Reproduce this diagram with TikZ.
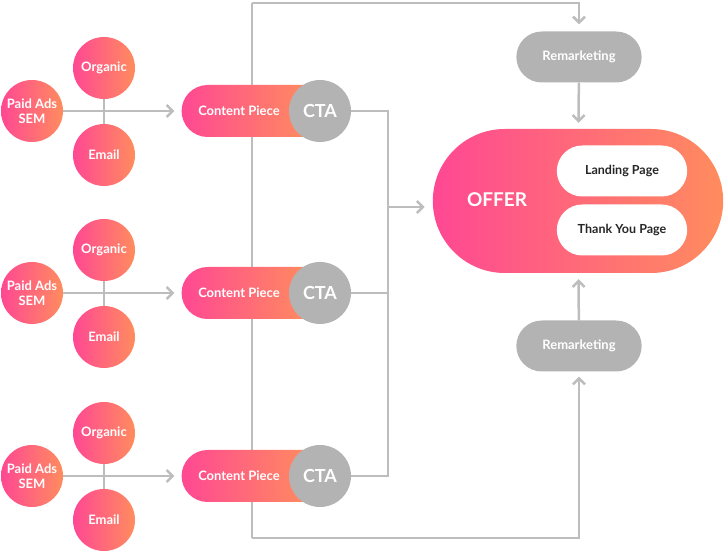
\documentclass[tikz,border=0pt]{standalone}
\usepackage{fontspec}
\setmainfont{Lato}
\usepackage{tikz}
\usetikzlibrary{arrows.meta,shapes.misc,backgrounds}
\definecolor{funnelpink}{HTML}{FF4893}
\definecolor{funnelorange}{HTML}{FF8C5E}
\definecolor{ctagray}{HTML}{B3B3B3}
\definecolor{linegray}{HTML}{BDBDBD}

\begin{document}
\begin{tikzpicture}[
  x=1pt,y=-1pt,
  grad/.style={left color=funnelpink,right color=funnelorange,draw=none},
  src/.style={circle,grad,minimum size=62pt,inner sep=0pt,align=center,text=white,font=\bfseries\fontsize{13}{15.5}\selectfont},
  piece/.style={rounded rectangle,rounded rectangle right arc=none,grad,minimum width=135pt,minimum height=52pt,text=white,font=\bfseries\fontsize{13}{15}\selectfont},
  cta/.style={circle,fill=ctagray,minimum size=62pt,inner sep=0pt,text=white,font=\bfseries\fontsize{18}{20}\selectfont},
  remark/.style={rounded rectangle,fill=ctagray,minimum width=132pt,minimum height=51pt,text=white,font=\bfseries\fontsize{13}{15}\selectfont},
  page/.style={rounded rectangle,fill=white,minimum width=137pt,minimum height=51pt,text=black!85,font=\bfseries\fontsize{12.5}{14}\selectfont},
  link/.style={draw=linegray,line width=2.5pt},
  arr/.style={link,-{Straight Barb[length=6pt,width=12pt]}}
]
\useasboundingbox (0,0) rectangle (724,553);

% three traffic rows
\foreach \r/\y in {1/111,2/293,3/476}{
  \node[src] (paid\r) at (32,\y) {Paid Ads\\SEM};
  \node[src] (org\r) at (104,{\y-43}) {Organic};
  \node[src] (mail\r) at (104,{\y+44}) {Email};
  \node[piece] (piece\r) at (246,\y) {Content Piece\hspace*{14pt}};
  \node[cta] (cta\r) at (320,\y) {CTA};
}

% offer and remarketing
\node[rounded rectangle,grad,minimum width=297pt,minimum height=144pt] (offer) at (578,201) {};
\node[text=white,font=\bfseries\fontsize{19}{21}\selectfont] (offertxt) at (497,200) {OFFER};
\node[page] (landing) at (622,171) {Landing Page};
\node[page] (thanks) at (622,230) {Thank You Page};
\node[remark] (remtop) at (579,57) {Remarketing};
\node[remark] (rembot) at (579,346) {Remarketing};

\coordinate (loopt) at (252,3);
\coordinate (loopb) at (252,538);
\coordinate (join) at (388,207);

\begin{scope}[on background layer]
  \foreach \r in {1,2,3}{
    \draw[link] (org\r) -- (mail\r);
    \draw[arr,shorten >=7pt] (paid\r) -- (piece\r);
  }
  \draw[link] (loopb) -- (loopt);
  \draw[arr,shorten >=7pt] (loopt) -| (remtop);
  \draw[arr,shorten >=5pt] (loopb) -| (rembot);
  \draw[arr,shorten >=6pt] (remtop) -- (offer);
  \draw[arr,shorten >=6pt] (rembot) -- (offer);
  \draw[link] (cta1) -| (join);
  \draw[link] (cta3) -| (join);
  \draw[link] (cta2) -- (cta2 -| join);
  \draw[arr,shorten >=8pt] (join) -- (join -| offer.west);
\end{scope}
\end{tikzpicture}
\end{document}
